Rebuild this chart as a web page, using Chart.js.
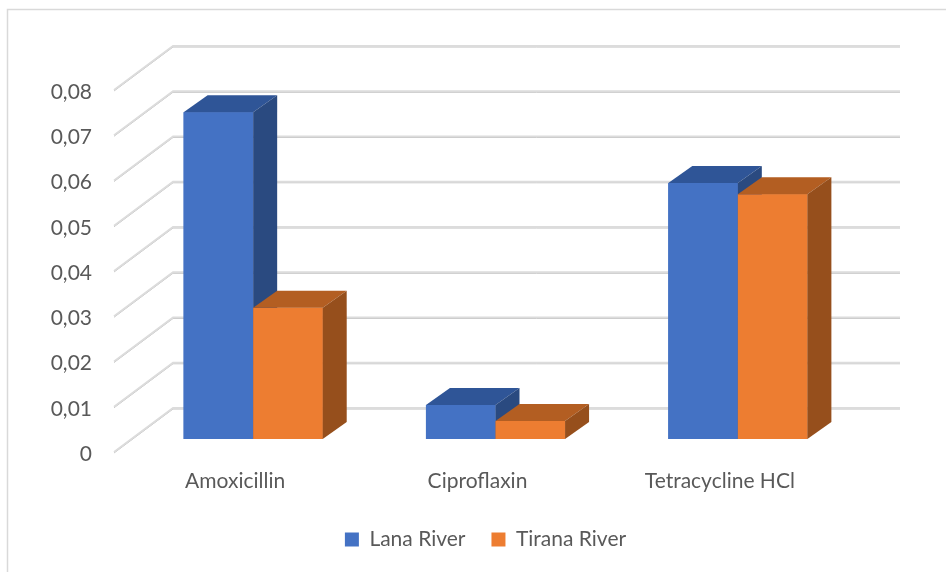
<!DOCTYPE html>
<html>
<head>
<meta charset="utf-8">
<script src="https://cdn.jsdelivr.net/npm/chart.js@4/dist/chart.umd.min.js"></script>
<style>
  html, body { margin: 0; padding: 0; background: #fff; }
  #wrap { width: 946px; height: 572px; position: relative; }
</style>
</head>
<body>
<div id="wrap"><canvas id="chart"></canvas></div>
<script>
// concentrations per antibiotic, two sampling rivers
const categories = ['Amoxicillin', 'Ciproflaxin', 'Tetracycline HCl'];
const lanaRiver = [0.0722, 0.0075, 0.0566];
const tiranaRiver = [0.029, 0.004, 0.0541];
const yMin = 0;
const yMax = 0.08;
const yStep = 0.01;

const textColor = '#595959';
const fontFamily = "Lato, 'Open Sans', sans-serif";

// oblique offsets of the 3D box, in px
const BAR_DEPTH = { dx: 24, dy: -17 };
const WALL_FRONT = { dx: -18, dy: 13 };
const WALL_BACK = { dx: 41, dy: -31 };
const LEGEND_SHIFT = -10;

const faceColors = [
  { top: '#2F5597', side: '#2A4A80' },
  { top: '#B35E22', side: '#964F1C' },
];

function formatTick(v) {
  if (Math.abs(v) < 1e-9) return '0';
  return v.toFixed(2).replace('.', ',');
}

function poly(ctx, pts, fill) {
  ctx.beginPath();
  ctx.moveTo(pts[0][0], pts[0][1]);
  for (let i = 1; i < pts.length; i++) ctx.lineTo(pts[i][0], pts[i][1]);
  ctx.closePath();
  ctx.fillStyle = fill;
  ctx.fill();
}

// outer frame of the chart object
const framePlugin = {
  id: 'frame',
  beforeDraw(chart) {
    const { ctx, width, height } = chart;
    ctx.save();
    ctx.strokeStyle = '#d9d9d9';
    ctx.lineWidth = 1.5;
    ctx.beginPath();
    ctx.moveTo(7.5, height);
    ctx.lineTo(7.5, 9.5);
    ctx.lineTo(width, 9.5);
    ctx.stroke();
    ctx.restore();
  },
};

// legend sits a little left of the plot centre
const legendShiftPlugin = {
  id: 'legendShift',
  afterLayout(chart) {
    if (!chart.legend) return;
    chart.legend.left += LEGEND_SHIFT;
    chart.legend.right += LEGEND_SHIFT;
  },
};

// side wall + back wall gridlines
const wallsPlugin = {
  id: 'walls',
  beforeDatasetsDraw(chart) {
    const { ctx, chartArea, scales } = chart;
    const y = scales.y;
    ctx.save();
    y.ticks.forEach((t) => {
      const py = y.getPixelForValue(t.value);
      const x0 = chartArea.left + WALL_FRONT.dx;
      const y0 = py + WALL_FRONT.dy;
      const x1 = chartArea.left + WALL_BACK.dx;
      const y1 = py + WALL_BACK.dy;
      const x2 = chartArea.right + WALL_BACK.dx;
      [['#bfbfbf', 1], ['#dcdcdc', 0]].forEach(([color, off]) => {
        ctx.strokeStyle = color;
        ctx.lineWidth = off ? 1 : 1.8;
        ctx.beginPath();
        ctx.moveTo(x0, y0 + off);
        ctx.lineTo(x1, y1 + off);
        ctx.lineTo(x2, y1 + off);
        ctx.stroke();
      });
    });
    ctx.restore();
  },
};

// top and side faces, drawn category by category so the boxes overlap properly
const boxPlugin = {
  id: 'boxes',
  afterDatasetsDraw(chart) {
    const { ctx } = chart;
    const { dx, dy } = BAR_DEPTH;
    ctx.save();
    categories.forEach((_, i) => {
      chart.data.datasets.forEach((ds, d) => {
        const el = chart.getDatasetMeta(d).data[i];
        if (!el) return;
        const { x, y, base, width } = el.getProps(['x', 'y', 'base', 'width'], true);
        const l = x - width / 2;
        const r = x + width / 2;
        el.draw(ctx);
        poly(ctx, [[l, y], [l + dx, y + dy], [r + dx, y + dy], [r, y]], faceColors[d].top);
        poly(ctx, [[r, y], [r + dx, y + dy], [r + dx, base + dy], [r, base]], faceColors[d].side);
      });
    });
    ctx.restore();
  },
};

new Chart(document.getElementById('chart'), {
  type: 'bar',
  data: {
    labels: categories,
    datasets: [
      {
        label: 'Lana River',
        data: lanaRiver,
        backgroundColor: '#4472C4',
        borderWidth: 0,
        categoryPercentage: 0.574,
        barPercentage: 1,
      },
      {
        label: 'Tirana River',
        data: tiranaRiver,
        backgroundColor: '#ED7D31',
        borderWidth: 0,
        categoryPercentage: 0.574,
        barPercentage: 1,
      },
    ],
  },
  options: {
    responsive: true,
    maintainAspectRatio: false,
    animation: false,
    layout: { padding: { left: 40, right: 87, top: 77, bottom: 12 } },
    plugins: {
      tooltip: { enabled: false },
      legend: {
        position: 'bottom',
        fullSize: false,
        labels: {
          color: textColor,
          font: { family: fontFamily, size: 21 },
          boxWidth: 14,
          boxHeight: 14,
          padding: 26,
        },
      },
    },
    scales: {
      x: {
        grid: { display: false, drawTicks: false },
        border: { display: false },
        ticks: {
          color: textColor,
          font: { family: fontFamily, size: 21 },
          padding: 30,
          labelOffset: -18,
        },
        afterFit(scale) { scale.height = 64; },
      },
      y: {
        min: yMin,
        max: yMax,
        grid: { display: false, drawTicks: false },
        border: { display: false },
        ticks: {
          stepSize: yStep,
          color: textColor,
          font: { family: fontFamily, size: 21 },
          padding: 40,
          labelOffset: 15,
          callback: (v) => formatTick(v),
        },
        afterFit(scale) { scale.width = 92; },
      },
    },
  },
  plugins: [framePlugin, legendShiftPlugin, wallsPlugin, boxPlugin],
});
</script>
</body>
</html>
